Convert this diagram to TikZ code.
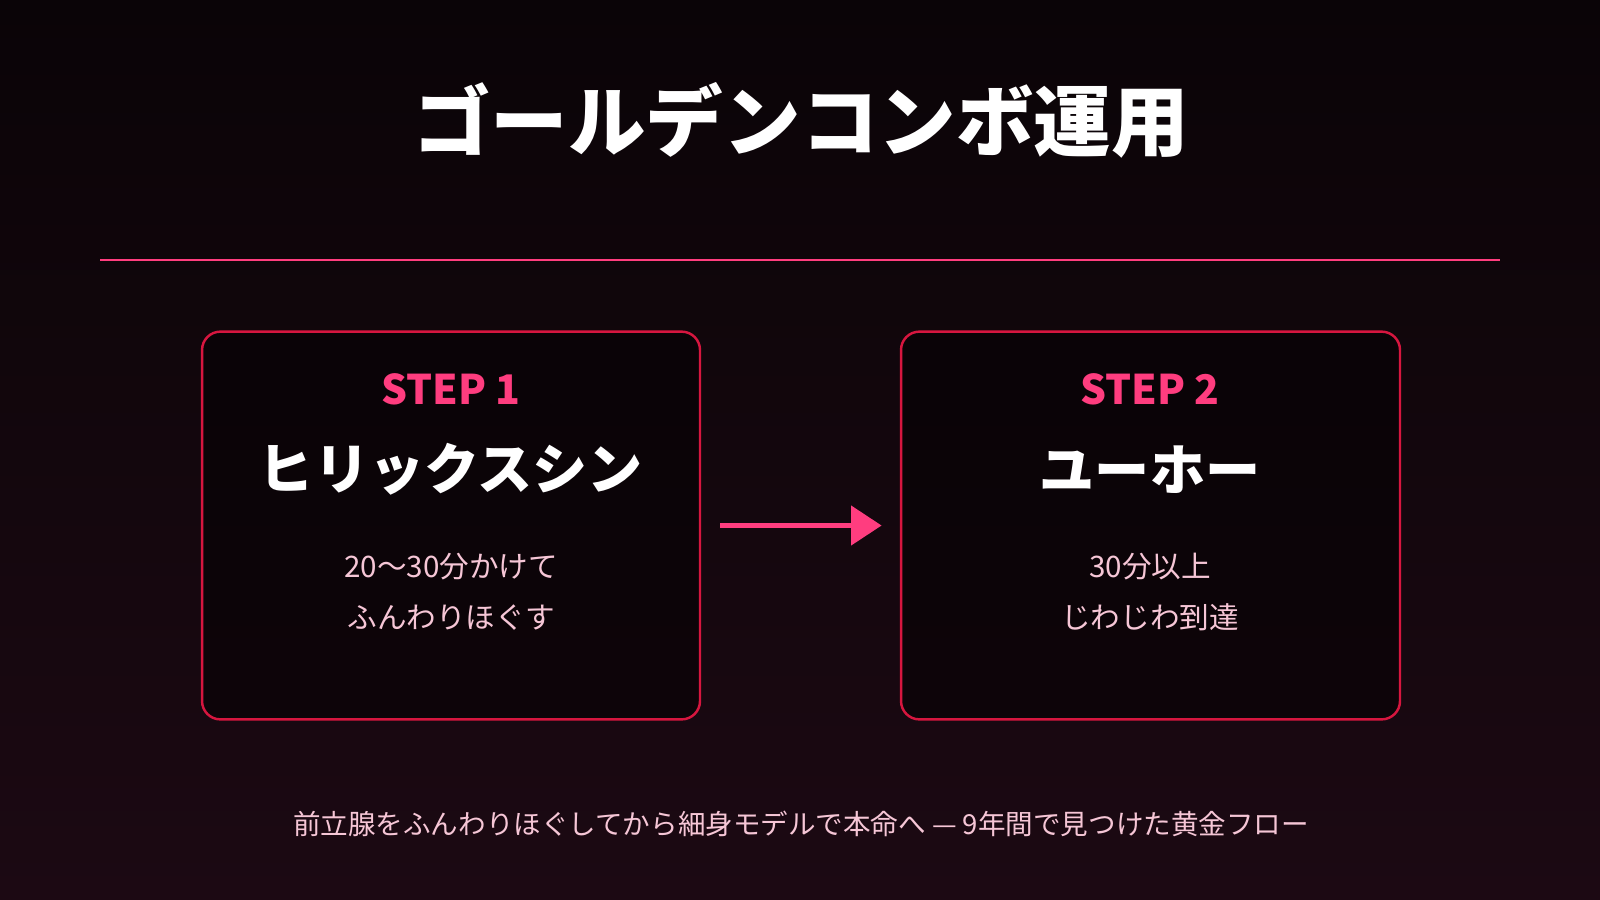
\documentclass[tikz,border=0pt]{standalone}
\usepackage{fontspec}
\setmainfont{Noto Sans CJK JP}
\usetikzlibrary{arrows.meta,positioning,calc}
\definecolor{bgtop}{HTML}{0A0407}
\definecolor{bgbot}{HTML}{1C0913}
\definecolor{boxred}{HTML}{D6163F}
\definecolor{steppink}{HTML}{FF3D7F}
\definecolor{softpink}{HTML}{F6C6D6}
\begin{document}
\begin{tikzpicture}[
    x=0.5pt, y=-0.5pt,
    card/.style={draw=boxred, line width=1.2pt, rounded corners=9pt,
        fill=black!60!bgtop, fill opacity=0.5},
    steplabel/.style={font=\fontsize{20}{24}\selectfont\bfseries, text=steppink},
    stepname/.style={font=\fontsize{27}{32}\selectfont\bfseries, text=white},
    note/.style={font=\fontsize{14.5}{25}\selectfont, text=softpink, align=center},
    flow/.style={line width=2.6pt, draw=steppink, -{Triangle[length=15pt,width=19pt]}},
]
  % background
  \shade[top color=bgtop, bottom color=bgbot] (0,0) rectangle (1568,882);
  \useasboundingbox (0,0) rectangle (1568,882);

  % title and rule
  \node (title) at (785,118) [font=\fontsize{38}{44}\selectfont\bfseries, text=white] {ゴールデンコンボ運用};
  \coordinate (ruleL) at (98,255);
  \coordinate (ruleR) at (1470,255);
  \draw[steppink, line width=0.8pt] (ruleL) -- (ruleR);

  % cards
  \draw[card] (198,325) rectangle (686,705);
  \draw[card] (883,325) rectangle (1372,705);

  \node (s1) at (442,382) [steplabel] {STEP 1};
  \node (n1) at (442,460) [stepname] {ヒリックスシン};
  \node (d1) at (442,580) [note] {20〜30分かけて\\ふんわりほぐす};

  \node (s2) at (1127,382) [steplabel] {STEP 2};
  \node (n2) at (1127,460) [stepname] {ユーホー};
  \node (d2) at (1127,580) [note] {30分以上\\じわじわ到達};

  % arrow
  \coordinate (a1) at (706,515);
  \coordinate (a2) at (864,515);
  \draw[flow] (a1) -- (a2);

  % footer
  \node (foot) at (785,807) [font=\fontsize{13.5}{16}\selectfont, text=softpink] {前立腺をふんわりほぐしてから細身モデルで本命へ — 9年間で見つけた黄金フロー};
\end{tikzpicture}
\end{document}
